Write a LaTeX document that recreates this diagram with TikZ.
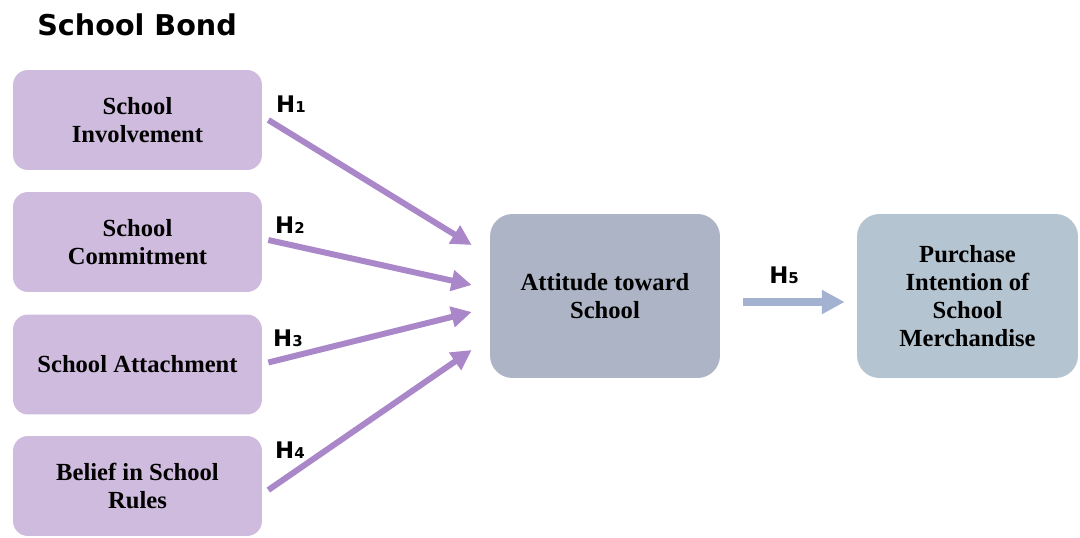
\documentclass[tikz,border=0pt]{standalone}
\usepackage{fontspec}
\setmainfont{Liberation Serif}
\newfontfamily\headfont{DejaVu Sans}
\usetikzlibrary{arrows.meta,calc}
\definecolor{lavender}{HTML}{CFBBDD}
\definecolor{arrowpurple}{HTML}{AA87C8}
\definecolor{slatebox}{HTML}{ADB4C5}
\definecolor{steelbox}{HTML}{B4C4D1}
\definecolor{arrowblue}{HTML}{A4B2D2}
\tikzset{
  bondbox/.style={rounded corners=0.3cm, fill=lavender, minimum width=4.98cm,
    minimum height=2.0cm, align=center, inner sep=2pt,
    font=\fontsize{14}{16}\selectfont\bfseries},
  outbox/.style={rounded corners=0.45cm, minimum height=3.28cm, align=center,
    inner sep=2pt, font=\fontsize{14}{16}\selectfont\bfseries},
  hyp/.style={font=\headfont\bfseries\fontsize{13}{14}\selectfont, inner sep=0pt},
  parrow/.style={arrowpurple, line width=3.4pt,
    -{Triangle[length=11.5pt,width=11.5pt]}},
  barrow/.style={arrowblue, line width=4pt,
    -{Triangle[length=13pt,width=13pt]}}
}
\newcommand{\hlabel}[1]{H{\fontsize{8.5}{9}\selectfont #1}}
\begin{document}
\begin{tikzpicture}[x=0.02cm, y=-0.02cm]
  \useasboundingbox (0,0) rectangle (1080,538);
  \fill[white] (0,0) rectangle (1080,538);

  % heading
  \node[anchor=west, inner sep=0pt, font=\headfont\bfseries\fontsize{16.3}{18}\selectfont]
    (title) at (37,25) {School Bond};

  % school-bond dimensions
  \node[bondbox] (b1) at (137.5,120) {School\\Involvement};
  \node[bondbox] (b2) at (137.5,242) {School\\Commitment};
  \node[bondbox] (b3) at (137.5,364.5) {School Attachment};
  \node[bondbox] (b4) at (137.5,486) {Belief in School\\Rules};

  % outcome constructs
  \node[outbox, fill=slatebox, minimum width=4.6cm] (att) at (605,296)
    {Attitude toward\\School};
  \node[outbox, fill=steelbox, minimum width=4.42cm] (pur) at (967.5,296)
    {Purchase\\Intention of\\School\\Merchandise};

  % hypothesised paths
  \draw[parrow] ($(b1.east)+(6,0)$)  -- ($(att.west)+(-18,-51)$);
  \draw[parrow] ($(b2.east)+(6,-2)$) -- ($(att.west)+(-18,-11)$);
  \draw[parrow] ($(b3.east)+(6,-2)$) -- ($(att.west)+(-18,16)$);
  \draw[parrow] ($(b4.east)+(6,4)$)  -- ($(att.west)+(-18,54)$);
  \draw[barrow] ($(att.east)+(23,6)$) -- ($(pur.west)+(-12,6)$);

  % path labels
  \node[hyp] (h1) at (291,104) {\hlabel{1}};
  \node[hyp] (h2) at (290,225) {\hlabel{2}};
  \node[hyp] (h3) at (288,338) {\hlabel{3}};
  \node[hyp] (h4) at (290,450) {\hlabel{4}};
  \node[hyp] (h5) at (784,275) {\hlabel{5}};
\end{tikzpicture}
\end{document}
